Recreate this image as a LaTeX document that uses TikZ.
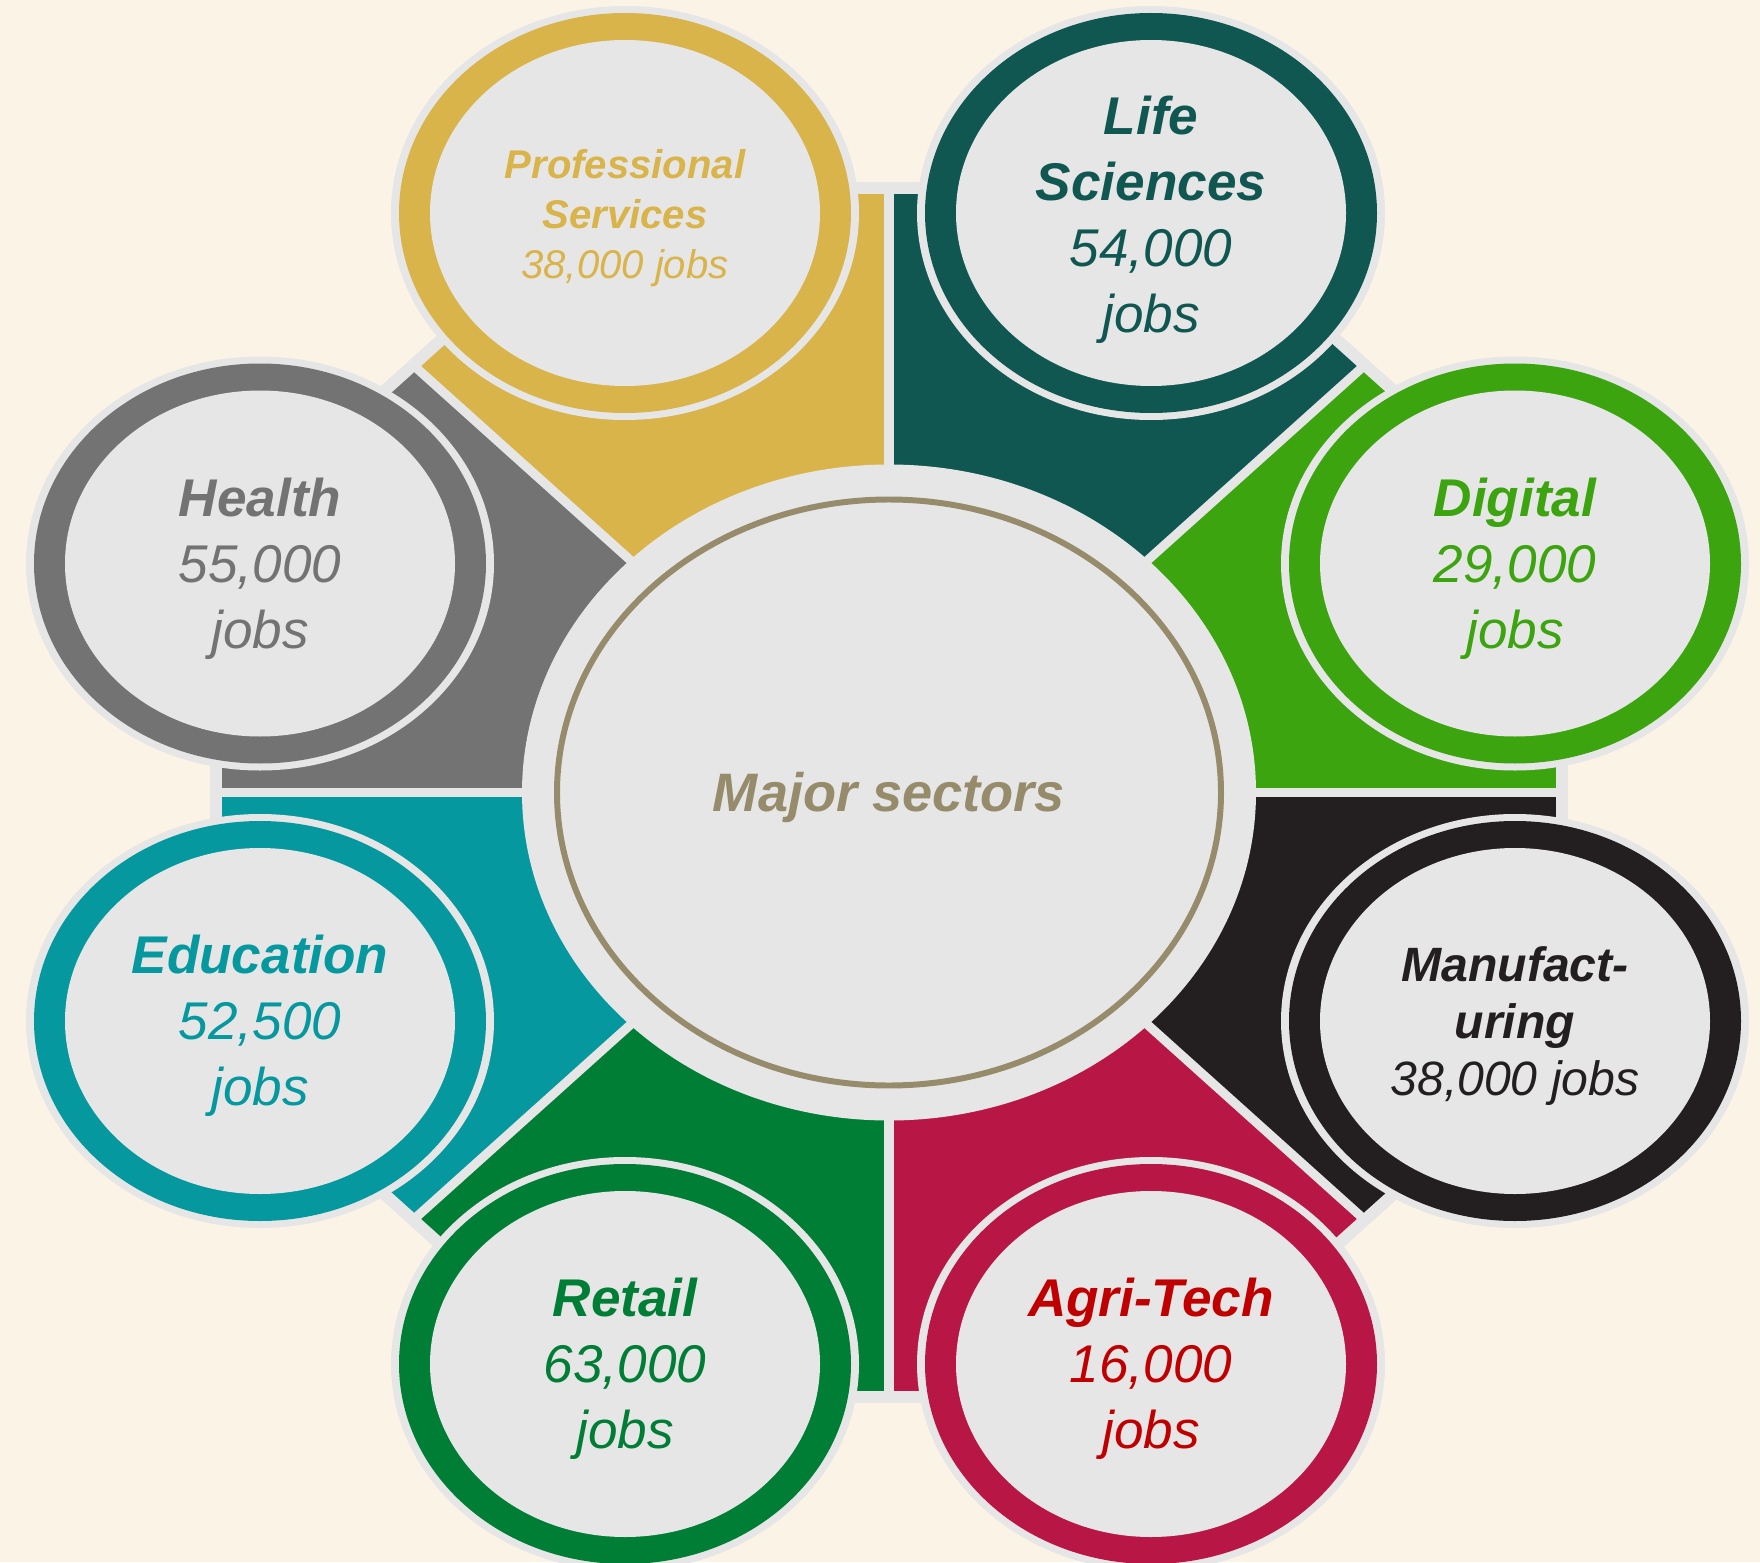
\documentclass[tikz,border=0pt]{standalone}
\usepackage{fontspec}
\setmainfont{Liberation Sans}
\definecolor{bgcream}{HTML}{FBF4E6}
\definecolor{lgrey}{HTML}{E6E6E6}
\definecolor{cgold}{HTML}{D9B44A}
\definecolor{cdteal}{HTML}{105752}
\definecolor{cgreen}{HTML}{3BA40E}
\definecolor{cblack}{HTML}{231F20}
\definecolor{ccrim}{HTML}{B81644}
\definecolor{cred}{HTML}{C00000}
\definecolor{cretail}{HTML}{007E36}
\definecolor{cteal}{HTML}{05989E}
\definecolor{cgray}{HTML}{737373}
\definecolor{ctan}{HTML}{968B6A}
\begin{document}
\begin{tikzpicture}[x=0.01cm,y=0.01cm,
  lbl/.style={align=center, inner sep=0pt, font=\fontsize{15.1}{18.8}\selectfont\itshape},
  lblsmall/.style={align=center, inner sep=0pt, font=\fontsize{11.4}{14.2}\selectfont\itshape},
  lblmid/.style={align=center, inner sep=0pt, font=\fontsize{13.7}{16.2}\selectfont\itshape},
]
\useasboundingbox (0,0) rectangle (1760,1562);
\fill[bgcream] (0,0) rectangle (1760,1562);

\begin{scope}[shift={(889,769.5)}]
  % sectors
  \fill[cgreen]  (0,0) -- (673,0) -- (673,250.4) -- (475.9,427.45) -- cycle;
  \fill[cdteal]  (0,0) -- (475.9,427.45) -- (278.8,604.5) -- (0,604.5) -- cycle;
  \fill[cgold]   (0,0) -- (0,604.5) -- (-278.8,604.5) -- (-475.9,427.45) -- cycle;
  \fill[cgray]   (0,0) -- (-475.9,427.45) -- (-673,250.4) -- (-673,0) -- cycle;
  \fill[cteal]   (0,0) -- (-673,0) -- (-673,-250.4) -- (-475.9,-427.45) -- cycle;
  \fill[cretail] (0,0) -- (-475.9,-427.45) -- (-278.8,-604.5) -- (0,-604.5) -- cycle;
  \fill[ccrim]   (0,0) -- (0,-604.5) -- (278.8,-604.5) -- (475.9,-427.45) -- cycle;
  \fill[cblack]  (0,0) -- (475.9,-427.45) -- (673,-250.4) -- (673,0) -- cycle;
  % gaps between sectors
  \foreach \ex/\ey in {673/0, 475.9/427.45, 0/604.5, -475.9/427.45, -673/0, -475.9/-427.45, 0/-604.5, 475.9/-427.45}
    \draw[draw=lgrey, line width=2.6pt] (0,0) -- (\ex,\ey);
  % outline of the octagon
  \draw[draw=lgrey, line width=3.4pt, line join=miter]
    (673,250.4) -- (278.8,604.5) -- (-278.8,604.5) -- (-673,250.4) -- (-673,-250.4)
    -- (-278.8,-604.5) -- (278.8,-604.5) -- (673,-250.4) -- cycle;
  % centre disk
  \fill[lgrey] (0,0) ellipse [x radius=367, y radius=328];
  \draw[draw=ctan, line width=1.7pt] (0,0) ellipse [x radius=332, y radius=293];
\end{scope}

% satellites
\foreach \px/\py/\col in {625/1349/cgold, 1151/1349/cdteal, 260/998.5/cgray, 1515/998.5/cgreen,
  260/541/cteal, 1515/541/cblack, 625/198/cretail, 1151/198/ccrim}{
  \fill[lgrey] (\px,\py) ellipse [x radius=234, y radius=207];
  \fill[\col] (\px,\py) ellipse [x radius=226, y radius=200];
  \fill[lgrey] (\px,\py) ellipse [x radius=195, y radius=173];
}

\node[lbl, font=\fontsize{15.4}{18}\selectfont\itshape, text=ctan] (centre) at (889,764.5) {\textbf{Major sectors}};
\node[lblsmall, text=cgold] (prof) at (625,1344) {\textbf{Professional}\\\textbf{Services}\\38,000 jobs};
\node[lbl, text=cdteal] (life) at (1151,1342) {\textbf{Life}\\\textbf{Sciences}\\54,000\\jobs};
\node[lbl, text=cgray] (health) at (260,993.5) {\textbf{Health}\\55,000\\jobs};
\node[lbl, text=cgreen] (digital) at (1515,993.5) {\textbf{Digital}\\29,000\\jobs};
\node[lbl, text=cteal] (edu) at (260,536) {\textbf{Education}\\52,500\\jobs};
\node[lblmid, text=cblack] (manu) at (1515,536) {\textbf{Manufact-}\\\textbf{uring}\\38,000 jobs};
\node[lbl, text=cretail] (retail) at (625,193) {\textbf{Retail}\\63,000\\jobs};
\node[lbl, text=cred] (agri) at (1151,193) {\textbf{Agri-Tech}\\16,000\\jobs};
\end{tikzpicture}
\end{document}
